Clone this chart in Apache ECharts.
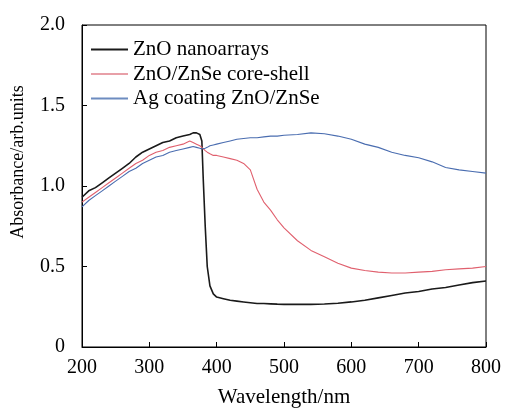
<!DOCTYPE html>
<html><head><meta charset="utf-8">
<script src="https://cdn.jsdelivr.net/npm/echarts@6/dist/echarts.min.js"></script>
<style>html,body{margin:0;padding:0;background:#fff}#c{width:505px;height:413px}</style>
</head><body><div id="c"></div>
<script>
const wavelengths = [200,210,220,230,240,250,260,270,280,290,300,310,320,330,340,350,360,365,370,375,378,380,383,386,390,395,400,410,420,430,440,450,460,470,480,490,500,520,540,560,580,600,620,640,660,680,700,720,740,760,780,800];
const znoNanoarrays = [0.93,0.97,0.99,1.02,1.05,1.08,1.11,1.14,1.18,1.21,1.23,1.25,1.27,1.28,1.30,1.31,1.32,1.33,1.33,1.32,1.28,1.05,0.75,0.50,0.38,0.33,0.31,0.30,0.29,0.285,0.28,0.275,0.27,0.27,0.268,0.266,0.265,0.265,0.265,0.267,0.272,0.28,0.29,0.305,0.32,0.335,0.345,0.36,0.37,0.385,0.40,0.41];
const coreShell = [0.90,0.93,0.96,0.99,1.02,1.05,1.08,1.11,1.14,1.16,1.19,1.21,1.22,1.24,1.25,1.26,1.28,1.27,1.26,1.25,1.24,1.23,1.22,1.21,1.20,1.19,1.19,1.18,1.17,1.16,1.14,1.10,0.98,0.90,0.85,0.79,0.74,0.66,0.60,0.56,0.52,0.49,0.475,0.465,0.46,0.46,0.465,0.47,0.48,0.485,0.49,0.50];
const agCoating = [0.87,0.91,0.94,0.97,1.00,1.03,1.06,1.09,1.11,1.14,1.16,1.18,1.19,1.21,1.22,1.23,1.24,1.245,1.24,1.235,1.23,1.23,1.235,1.24,1.25,1.255,1.26,1.27,1.28,1.29,1.295,1.30,1.30,1.305,1.31,1.31,1.315,1.32,1.33,1.325,1.31,1.29,1.26,1.24,1.21,1.19,1.175,1.15,1.115,1.10,1.09,1.08];
const seriesNames = ['ZnO nanoarrays','ZnO/ZnSe core-shell','Ag coating ZnO/ZnSe'];
const xTitle = 'Wavelength/nm';
const yTitle = 'Absorbance/arb.units';
const font = 'Liberation Serif';
const pair = arr => wavelengths.map((w,i)=>[w,arr[i]]);
const chart = echarts.init(document.getElementById('c'));
const axisCommon = {
  axisLine:{show:true,onZero:false,lineStyle:{color:'#000',width:1}},
  axisTick:{show:true,inside:true,length:5,lineStyle:{color:'#000'}},
  splitLine:{show:false}
};
const labelStyle = {color:'#000',fontFamily:font,fontSize:20};
chart.setOption({
  animation:false,
  grid:{left:82,right:19,top:25,bottom:63,show:true,borderColor:'#000',borderWidth:1},
  legend:{
    left:91,top:39,orient:'vertical',padding:0,itemGap:3.5,itemWidth:37,itemHeight:2,icon:'rect',
    textStyle:{fontFamily:font,fontSize:21,color:'#000',lineHeight:20},
    data:seriesNames
  },
  graphic:[{type:'text',x:18,y:162,rotation:Math.PI/2,
    style:{text:yTitle,fontFamily:font,fontSize:18,fill:'#000',align:'center',verticalAlign:'middle'}}],
  xAxis:Object.assign({},axisCommon,{type:'value',min:200,max:800,interval:100,
    name:xTitle,nameLocation:'middle',nameGap:40,
    nameTextStyle:{color:'#000',fontFamily:font,fontSize:21},
    axisLabel:Object.assign({},labelStyle,{margin:11})}),
  yAxis:Object.assign({},axisCommon,{type:'value',min:0,max:2,interval:0.5,
    axisLabel:Object.assign({},labelStyle,{margin:17,formatter:v=>v===0?'0':v.toFixed(1)})}),
  series:[
    {name:seriesNames[0],type:'line',data:pair(znoNanoarrays),symbol:'none',lineStyle:{color:'#1a1a1a',width:1.6},itemStyle:{color:'#1a1a1a'}},
    {name:seriesNames[1],type:'line',data:pair(coreShell),symbol:'none',lineStyle:{color:'#e0606e',width:1.1},itemStyle:{color:'#e8a0a8'}},
    {name:seriesNames[2],type:'line',data:pair(agCoating),symbol:'none',lineStyle:{color:'#4a6db0',width:1.1},itemStyle:{color:'#6d8cc0'}}
  ]
});
</script></body></html>
